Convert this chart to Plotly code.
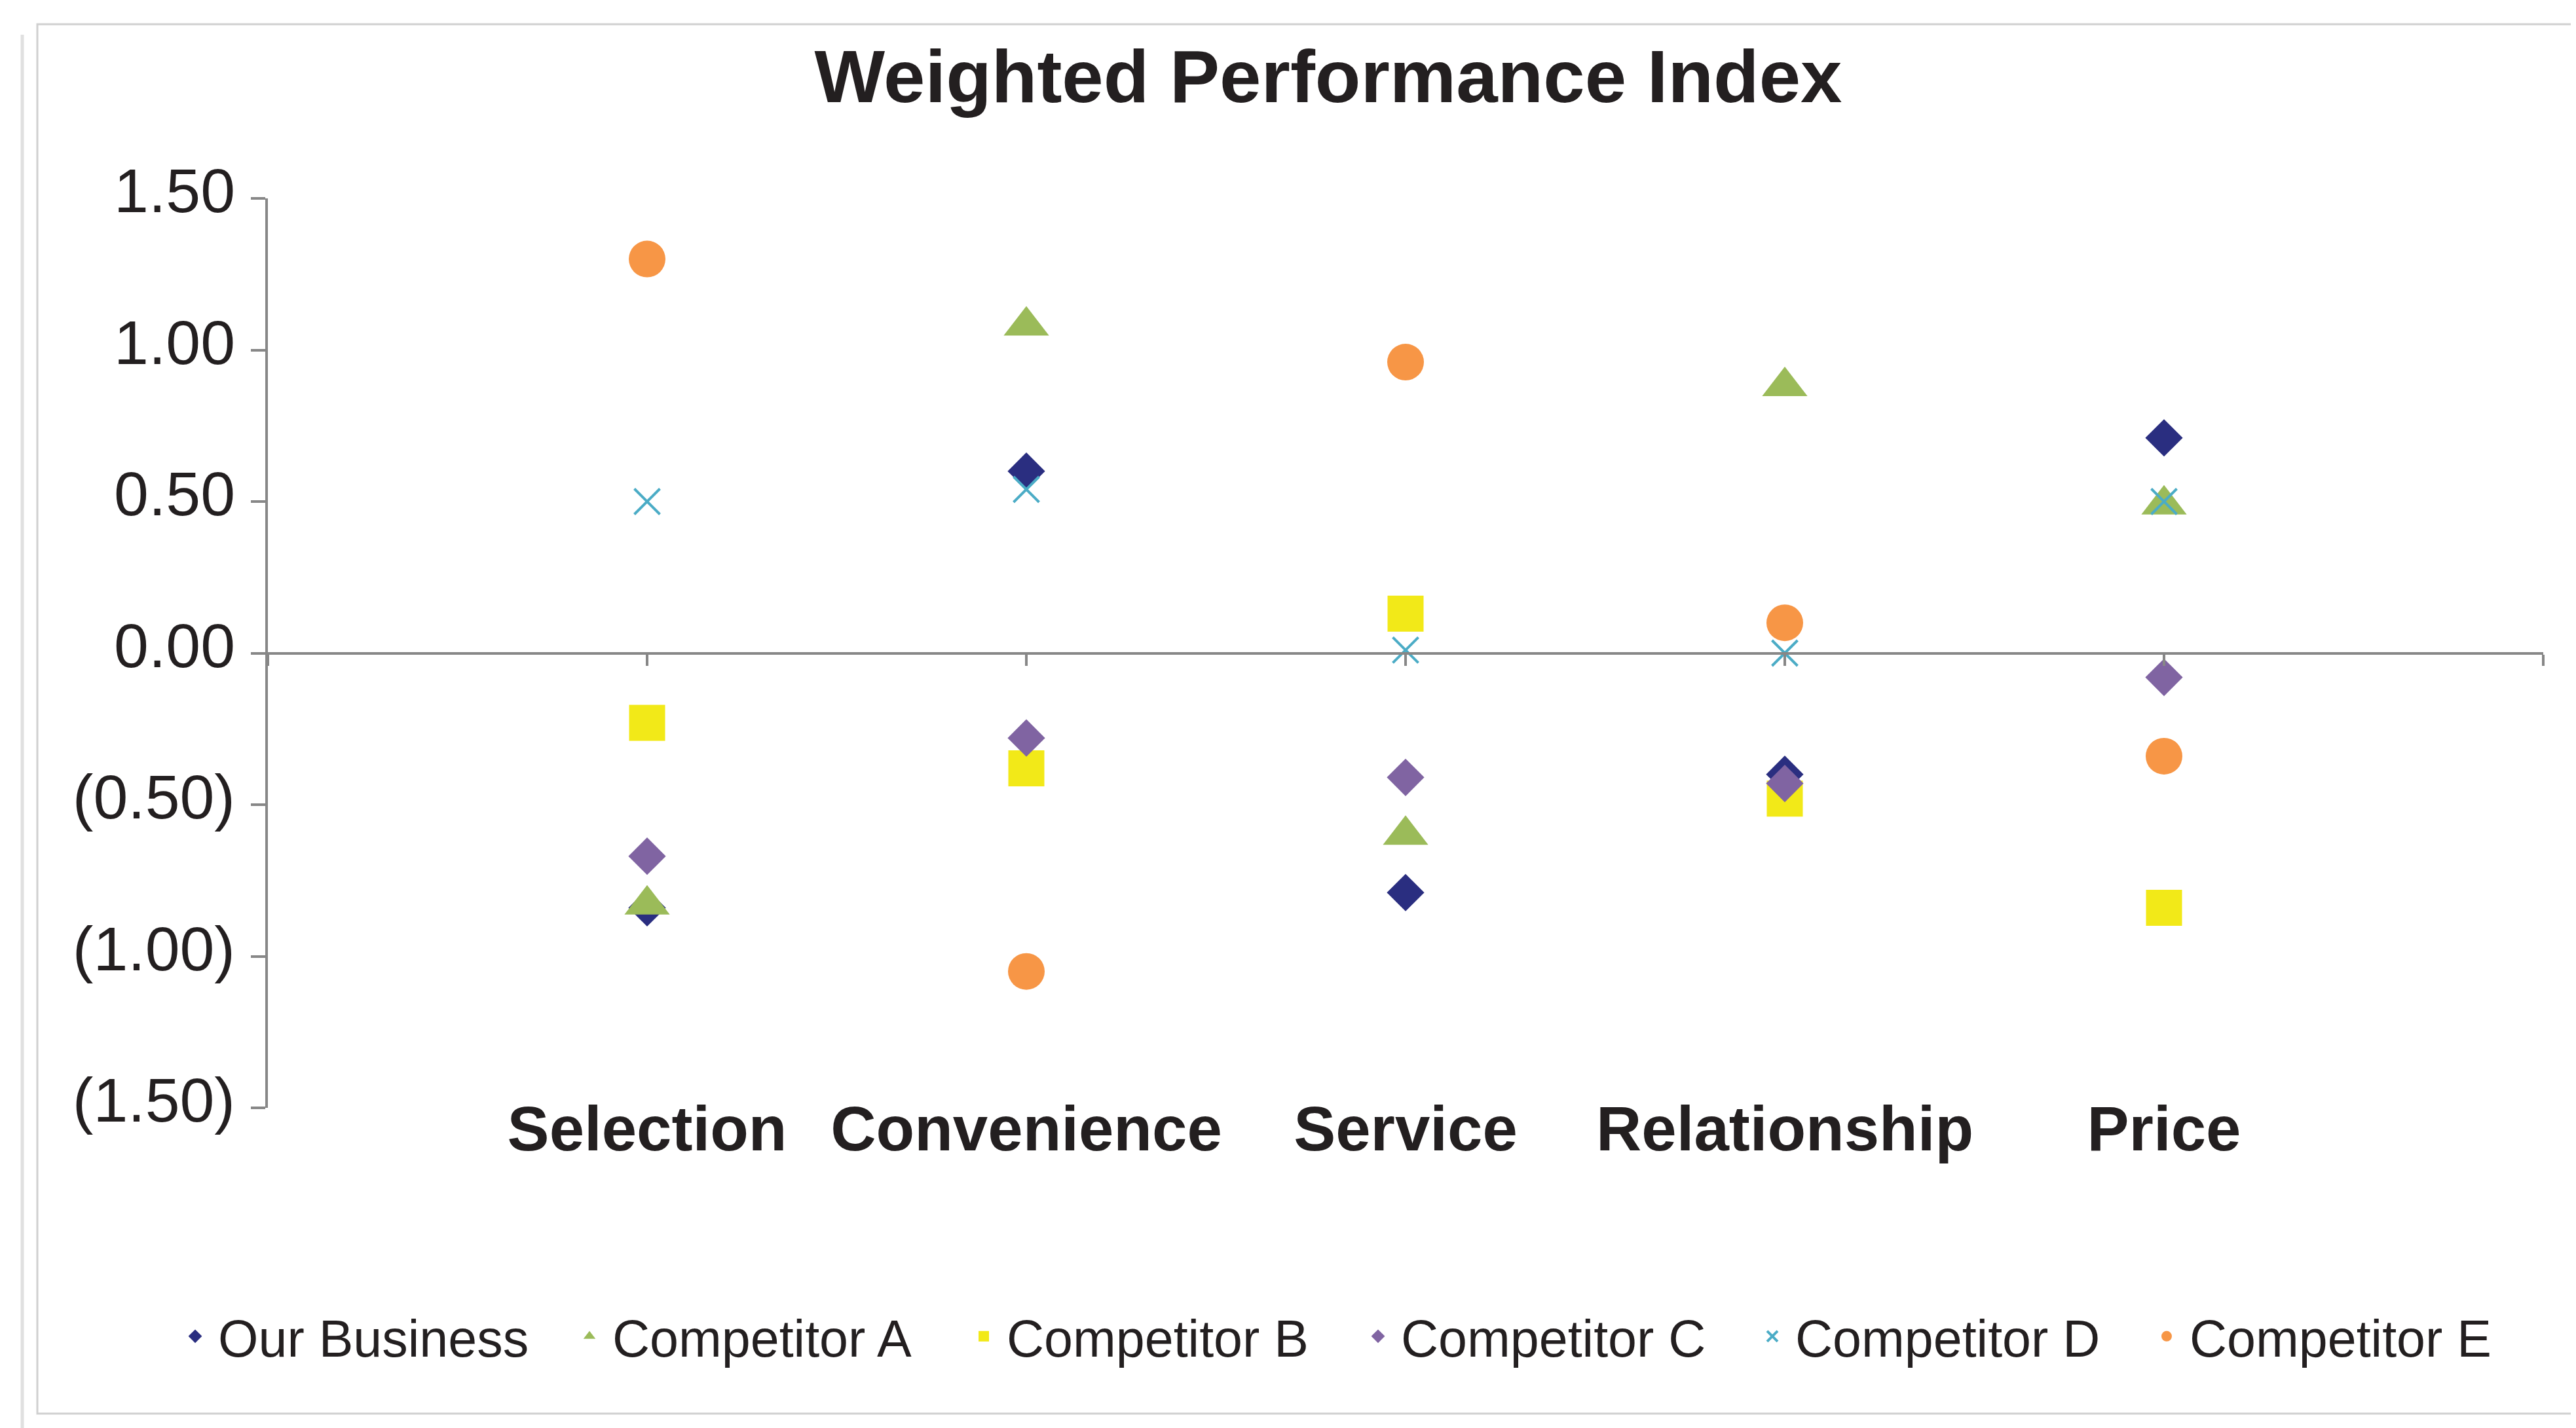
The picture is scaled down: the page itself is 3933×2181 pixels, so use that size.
import plotly.graph_objects as go

# categories along the x axis
categories = ["Selection", "Convenience", "Service", "Relationship", "Price"]

# weighted performance index, one value per category
our_business = [-0.84, 0.60, -0.79, -0.40, 0.71]
competitor_a = [-0.83, 1.08, -0.60, 0.88, 0.49]
competitor_b = [-0.23, -0.38, 0.13, -0.48, -0.84]
competitor_c = [-0.67, -0.28, -0.41, -0.43, -0.08]
competitor_d = [0.50, 0.54, 0.01, 0.00, 0.50]
competitor_e = [1.30, -1.05, 0.96, 0.10, -0.34]

y_tick_values = [1.5, 1.0, 0.5, 0.0, -0.5, -1.0, -1.5]
y_tick_labels = ["1.50", "1.00", "0.50", "0.00", "(0.50)", "(1.00)", "(1.50)"]

W, H = 3933, 2181
ML, MR, MT, MB = 401, 58, 295, 497
TEXT = "#231f20"
AXIS = "#878787"
FONT = "Liberation Sans, Arial, sans-serif"

series = [
    ("Our Business", our_business, "diamond", "#2a2e80", 44),
    ("Competitor A", competitor_a, "triangle-up", "#9bbb59", 60),
    ("Competitor B", competitor_b, "square", "#f2e918", 55),
    ("Competitor C", competitor_c, "diamond", "#8064a2", 44),
    ("Competitor D", competitor_d, "x-thin", "#4bacc6", 39),
    ("Competitor E", competitor_e, "circle", "#f79646", 56),
]

x_pos = list(range(1, len(categories) + 1))

fig = go.Figure()

for name, vals, symbol, color, size in series:
    if symbol == "x-thin":
        marker = dict(symbol=symbol, size=size, color=color,
                      line=dict(color=color, width=4))
    else:
        marker = dict(symbol=symbol, size=size, color=color, line=dict(width=0))
    fig.add_trace(go.Scatter(x=x_pos, y=vals, mode="markers", name=name,
                             marker=marker))

# empty trace so the zero-line axis (x2) gets drawn
fig.add_trace(go.Scatter(x=[], y=[], xaxis="x2", showlegend=False, hoverinfo="skip"))


def px_to_paper_x(px):
    return (px - ML) / (W - ML - MR)


def px_to_paper_y(py):
    return (H - MB - py) / (H - MT - MB)


fig.update_layout(
    width=W, height=H,
    margin=dict(l=ML, r=MR, t=MT, b=MB),
    paper_bgcolor="white", plot_bgcolor="white",
    font=dict(family=FONT, color=TEXT),
    title=dict(text="<b>Weighted Performance Index</b>", x=2020 / W, xref="container",
               xanchor="center", y=1 - 108 / H, yref="container", yanchor="middle",
               font=dict(size=114, family=FONT, color=TEXT)),
    xaxis=dict(range=[0, 6], tickvals=x_pos, ticktext=["<b>%s</b>" % c for c in categories],
               showgrid=False, zeroline=False, showline=False, ticks="",
               tickfont=dict(size=96, color=TEXT), ticklabelstandoff=-32),
    xaxis2=dict(overlaying="x", matches="x", anchor="free", position=0.5,
                range=[0, 6], tick0=0, dtick=1, ticks="outside", ticklen=17,
                tickwidth=4, tickcolor=AXIS, showline=True, linecolor=AXIS, linewidth=4,
                showticklabels=False, showgrid=False, zeroline=False),
    yaxis=dict(range=[-1.5, 1.5], tickvals=y_tick_values, ticktext=y_tick_labels,
               showgrid=False, zeroline=False, showline=True, linecolor=AXIS, linewidth=4,
               ticks="outside", ticklen=22, tickwidth=4, tickcolor=AXIS,
               tickfont=dict(size=95, color=TEXT), ticklabelstandoff=5,
               ticklabelshift=-12),
    legend=dict(orientation="h", xref="paper", yref="paper",
                x=px_to_paper_x(255), xanchor="left", y=px_to_paper_y(2033),
                yanchor="middle",
                font=dict(size=79, color=TEXT), itemwidth=60, entrywidth=527,
                bgcolor="rgba(0,0,0,0)"),
    shapes=[
        dict(type="rect", xref="paper", yref="paper",
             x0=px_to_paper_x(49), x1=px_to_paper_x(3928),
             y0=px_to_paper_y(2151), y1=px_to_paper_y(29),
             line=dict(color="#d0d0d0", width=3), layer="below"),
        dict(type="line", xref="paper", yref="paper",
             x0=px_to_paper_x(25), x1=px_to_paper_x(3925),
             y0=px_to_paper_y(2177), y1=px_to_paper_y(2177),
             line=dict(color="#a8a8a8", width=8), layer="below"),
        dict(type="line", xref="paper", yref="paper",
             x0=px_to_paper_x(26), x1=px_to_paper_x(26),
             y0=px_to_paper_y(2177), y1=px_to_paper_y(45),
             line=dict(color="#e0e0e0", width=5), layer="below"),
    ],
)

fig.write_html("out.html")
